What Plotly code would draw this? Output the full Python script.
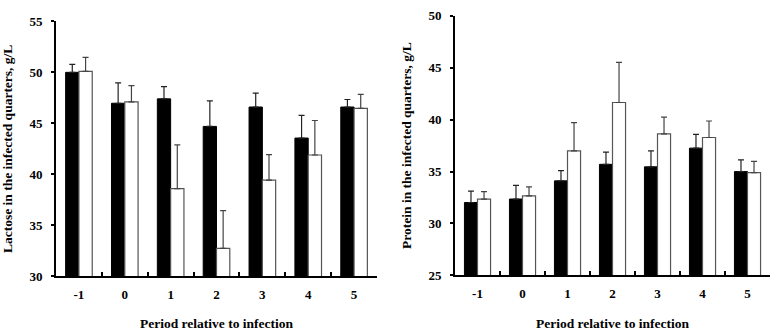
import plotly.graph_objects as go

periods = ["-1", "0", "1", "2", "3", "4", "5"]

lactose_black = [50.0, 46.97, 47.4, 44.7, 46.6, 43.56, 46.6]
lactose_black_err = [0.78, 2.0, 1.2, 2.5, 1.37, 2.22, 0.74]
lactose_white = [50.1, 47.1, 38.6, 32.75, 39.44, 41.9, 46.47]
lactose_white_err = [1.37, 1.6, 4.3, 3.69, 2.5, 3.38, 1.37]

protein_black = [32.02, 32.35, 34.1, 35.69, 35.45, 37.25, 34.99]
protein_black_err = [1.1, 1.32, 0.98, 1.17, 1.53, 1.32, 1.13]
protein_white = [32.35, 32.66, 36.98, 41.64, 38.63, 38.27, 34.9]
protein_white_err = [0.71, 0.86, 2.72, 3.86, 1.6, 1.59, 1.07]

W, H = 771, 336
FONT = "Liberation Serif"

fig = go.Figure()

def add_pair(xa, ya, blk, blk_e, wht, wht_e):
    fig.add_trace(go.Bar(
        x=periods, y=blk, xaxis=xa, yaxis=ya, showlegend=False,
        marker=dict(color="black", line=dict(color="black", width=1)),
        error_y=dict(type="data", array=blk_e, arrayminus=[0]*len(blk_e),
                     symmetric=False, color="#222", thickness=1.2, width=3),
    ))
    fig.add_trace(go.Bar(
        x=periods, y=wht, xaxis=xa, yaxis=ya, showlegend=False,
        marker=dict(color="white", line=dict(color="#555", width=1.2)),
        error_y=dict(type="data", array=wht_e, arrayminus=[0]*len(wht_e),
                     symmetric=False, color="#444", thickness=1.2, width=3),
    ))

add_pair("x", "y", lactose_black, lactose_black_err, lactose_white, lactose_white_err)
add_pair("x2", "y2", protein_black, protein_black_err, protein_white, protein_white_err)

tickfont = dict(family=FONT, size=13, color="black", weight="bold")
titlefont = dict(family=FONT, size=13.5, color="black", weight="bold")

xcommon = dict(
    type="category", showline=True, linecolor="black", linewidth=2,
    ticks="inside", tickson="boundaries", ticklen=4, tickcolor="black", tickwidth=1.5,
    tickfont=tickfont, showgrid=False, zeroline=False, ticklabelstandoff=5,
    title=dict(text="Period relative to infection", font=titlefont, standoff=18),
    range=[-0.5, 6.5],
)
ycommon = dict(
    showline=True, linecolor="black", linewidth=2, ticks="outside", ticklen=3,
    tickcolor="black", tickwidth=1.5, tickfont=tickfont, showgrid=False, zeroline=False,
    dtick=5, ticklabelstandoff=6,
)

fig.update_layout(
    width=W, height=H, margin=dict(l=0, r=0, t=0, b=0),
    paper_bgcolor="white", plot_bgcolor="white",
    barmode="group", bargap=0.42, bargroupgap=0,
    xaxis=dict(domain=[56/W, 377/W], anchor="y", **xcommon),
    yaxis=dict(domain=[1-282/H, 1-15/H], anchor="x", range=[30, 55],
               title=dict(text="Lactose in the infected quarters, g/L", font=titlefont, standoff=14),
               **ycommon),
    xaxis2=dict(domain=[455/W, 770/W], anchor="y2", **xcommon),
    yaxis2=dict(domain=[1-281/H, 1-9/H], anchor="x2", range=[25, 50],
                title=dict(text="Protein in the infected quarters, g/L", font=titlefont, standoff=14),
                **ycommon),
)

fig.write_html("out.html")
